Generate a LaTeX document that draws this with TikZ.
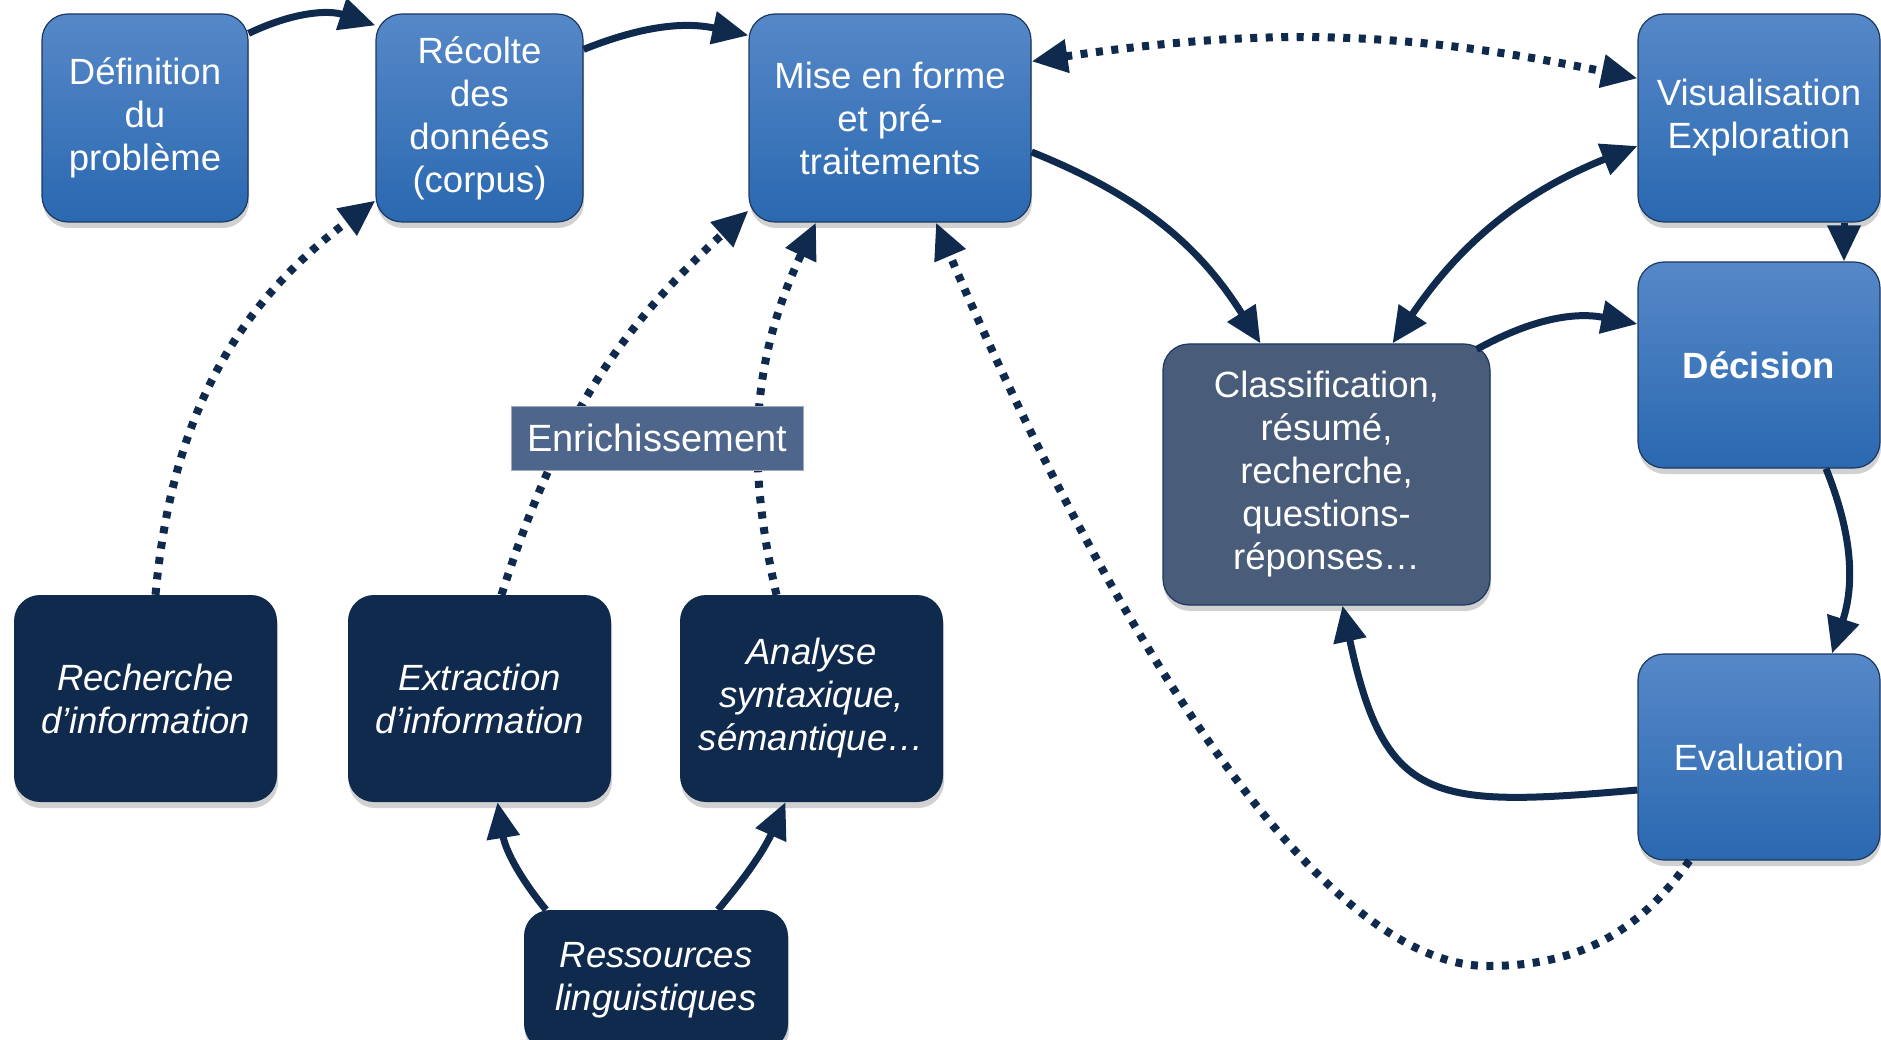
\documentclass[tikz,border=0pt]{standalone}
\usepackage{fontspec}
\setmainfont{Liberation Sans}
\usetikzlibrary{arrows.meta,shadows}

\definecolor{btop}{RGB}{86,136,200}
\definecolor{bmid}{RGB}{56,121,196}
\definecolor{bbot}{RGB}{42,104,176}
\definecolor{edge}{RGB}{28,56,96}
\definecolor{navy}{RGB}{15,42,77}
\definecolor{slate}{RGB}{73,93,123}
\definecolor{tagfill}{RGB}{78,101,140}
\definecolor{tagedge}{RGB}{160,170,186}

\newcommand\boxfont{\fontsize{36.5pt}{43pt}\selectfont}

\tikzset{
  box/.style={rounded corners=26pt, inner sep=0pt, align=center,
    font=\boxfont, text=white,
    drop shadow={shadow xshift=1pt, shadow yshift=-6pt, opacity=0.18, fill=black}},
  bluebox/.style={box, draw=edge, line width=1.2pt,
    top color=btop, middle color=bmid, bottom color=bbot},
  navybox/.style={box, fill=navy, font=\boxfont\itshape},
  slatebox/.style={box, fill=slate, draw=edge, line width=1.2pt},
  tag/.style={fill=tagfill, draw=tagedge, line width=1pt, text=white,
    inner sep=0pt, minimum width=292pt, minimum height=64pt,
    font=\fontsize{38pt}{44pt}\selectfont},
  >={Triangle[length=36pt,width=32pt]},
  flow/.style={draw=navy, line width=7pt},
  dots/.style={draw=navy, line width=8pt, dash pattern=on 7pt off 8.5pt},
}

\begin{document}
\begin{tikzpicture}[x=1pt, y=-1pt]
\useasboundingbox (0,0) rectangle (1881,1040);

% process boxes
\node[bluebox, minimum width=206pt, minimum height=208pt] (def) at (145,118)
  {Définition\\du\\problème};
\node[bluebox, minimum width=207pt, minimum height=208pt] (rec) at (479.5,118)
  {Récolte\\des\\données\\(corpus)};
\node[bluebox, minimum width=282pt, minimum height=208pt] (mise) at (890,118)
  {Mise en forme\\et pré-\\traitements};
\node[bluebox, minimum width=242pt, minimum height=208pt] (visu) at (1759,118)
  {Visualisation\\Exploration};
\node[bluebox, minimum width=242pt, minimum height=206pt] (deci) at (1759,365)
  {\textbf{Décision}};
\node[slatebox, minimum width=327pt, minimum height=261pt] (clas) at (1326.5,474.5)
  {Classification,\\résumé,\\recherche,\\questions-\\réponses…};
\node[bluebox, minimum width=242pt, minimum height=206pt] (eval) at (1759,757)
  {Evaluation};

% language processing tools
\node[navybox, minimum width=263pt, minimum height=207pt] (rech) at (145.5,698.5)
  {Recherche\\d’information};
\node[navybox, minimum width=263pt, minimum height=207pt] (extr) at (479.5,698.5)
  {Extraction\\d’information};
\node[navybox, minimum width=263pt, minimum height=207pt] (anal) at (811.5,698.5)
  {Analyse\\syntaxique,\\sémantique…};
\node[navybox, minimum width=264pt, minimum height=140pt] (ress) at (656,980)
  {Ressources\\linguistiques};

\coordinate (dip) at (1488,966);

% main flow
\draw[flow,->] ([yshift=-20pt]def.north east) to[bend left=22] ([yshift=-12pt]rec.north west);
\draw[flow,->] ([yshift=-36pt]rec.north east) to[bend left=17] ([yshift=-22pt]mise.north west);
\draw[dots,<->] ([yshift=-48pt]mise.north east) to[bend left=10] ([yshift=-65pt]visu.north west);
\draw[flow,->] ([yshift=-34pt]mise.east) to[bend left=18] ([xshift=-66pt]clas.north);
\draw[flow,<->] ([xshift=66pt]clas.north) to[bend left=17] ([yshift=-28pt]visu.west);
\draw[flow,->] ([xshift=85pt]visu.south) -- ([xshift=85pt]deci.north);
\draw[flow,->] ([xshift=-14pt,yshift=-6pt]clas.north east) to[bend left=20] ([yshift=41pt]deci.west);
\draw[flow,->] ([xshift=67pt]deci.south) to[bend left=20] ([xshift=73pt]eval.north);
\draw[flow,->] ([yshift=-33pt]eval.west) to[out=185,in=-78,looseness=1.5] ([xshift=16pt]clas.south);
\draw[dots,->] ([xshift=52pt]eval.south west) to[out=-125,in=0] (dip)
  .. controls (1300,966) and (1080,560) .. ([xshift=46pt]mise.south);

% enrichment links
\draw[dots,->] ([xshift=10pt]rech.north) to[bend left=24] ([yshift=22pt]rec.south west);
\draw[dots,->] ([xshift=22pt]extr.north) to[bend left=15] ([yshift=12pt]mise.south west);
\draw[dots,->] ([xshift=-35pt]anal.north) to[bend left=19] ([xshift=-74pt]mise.south);
\draw[flow,->] ([xshift=-110pt]ress.north) to[bend left=15] ([xshift=18pt]extr.south);
\draw[flow,->] ([xshift=62pt]ress.north) to[bend right=8] ([xshift=-26pt]anal.south);

\node[tag] (enri) at (657,438) {Enrichissement};
\end{tikzpicture}
\end{document}
